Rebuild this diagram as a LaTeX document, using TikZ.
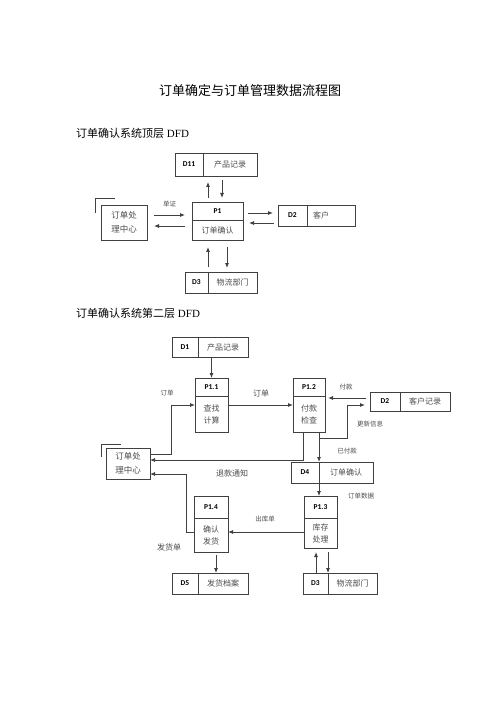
\documentclass[tikz,border=0pt]{standalone}
\usepackage{fontspec}
\setmainfont{Liberation Serif}
\newfontfamily\cjk{Noto Sans CJK SC}
\newfontfamily\idfont{Carlito}
\usetikzlibrary{positioning,arrows.meta}
\definecolor{linec}{gray}{0.25}
\definecolor{txtc}{gray}{0.3}

\begin{document}
\begin{tikzpicture}[
  x=1pt, y=-1pt,
  cell/.style={draw=linec, line width=0.8pt, inner sep=0pt, outer sep=0pt, minimum height=21pt},
  idcell/.style={cell, font=\idfont\bfseries\fontsize{7.5}{8}\selectfont},
  namecell/.style={cell, text=txtc, font=\cjk\fontsize{8}{9}\selectfont},
  phead/.style={cell, minimum height=18pt, font=\idfont\bfseries\fontsize{7.5}{8}\selectfont},
  pbody/.style={cell, text=txtc, align=center, font=\cjk\fontsize{8}{12}\selectfont},
  extbox/.style={cell, text=txtc, align=center, font=\cjk\fontsize{8.5}{14}\selectfont},
  lbl/.style={text=txtc, inner sep=0pt, font=\cjk\fontsize{6.5}{7}\selectfont},
  biglbl/.style={lbl, font=\cjk\fontsize{8}{9}\selectfont},
  flow/.style={-{Latex[length=5pt,width=4pt]}, draw=linec, line width=0.8pt},
  line/.style={draw=linec, line width=0.8pt}
]

\useasboundingbox (0,0) rectangle (500,708);

% Titles
\node (title) at (250,91) {\cjk\fontsize{13}{14}\selectfont 订单确定与订单管理数据流程图};
\node[anchor=west, inner sep=0pt] (sub1) at (76,133) {\fontsize{11}{12}\selectfont{\cjk 订单确认系统顶层} DFD};

% Top level
\node[idcell, minimum width=28pt, minimum height=23pt] (d11i) at (189,164.5) {D11};
\node[namecell, minimum width=54pt, minimum height=23pt, right=0pt of d11i] (d11n) {产品记录};

\node[phead, minimum width=51pt] (p1h) at (217.5,211) {P1};
\node[pbody, minimum width=51pt, minimum height=20pt, below=0pt of p1h] (p1b) {订单确认};

\node[extbox, minimum width=46pt, minimum height=35pt] (oc1) at (124,222.5) {订单处\\理中心};

\node[idcell, minimum width=29pt] (d2i) at (292.5,215.5) {D2};
\node[namecell, text width=36pt, inner xsep=6pt, align=left, right=0pt of d2i] (d2n) {客户};

\node[idcell, minimum width=23pt] (d3i) at (196.5,282.5) {D3};
\node[namecell, minimum width=49pt, right=0pt of d3i] (d3n) {物流部门};

\draw[line] ([xshift=-6pt,yshift=9.5pt]oc1.west) |- ([xshift=14pt,yshift=7pt]oc1.north west);

\draw[flow, shorten <=7pt, shorten >=7pt] ([yshift=7.5pt]oc1.east) -- node[lbl, above=8pt] (l1) {单证} ([yshift=-4pt]p1h.west);
\draw[flow, shorten <=7pt, shorten >=7pt] ([yshift=4pt]p1b.west) -- ([yshift=-3.5pt]oc1.east);

\draw[flow, shorten <=4pt, shorten >=6pt] ([xshift=-9.5pt]p1h.north) -- ([xshift=-22pt]d11n.south);
\draw[flow, shorten <=4pt, shorten >=4pt] ([xshift=-8pt]d11n.south) -- ([xshift=4.5pt]p1h.north);

\draw[flow, shorten <=5pt, shorten >=5pt] ([yshift=-2pt]p1h.east) -- ([yshift=2.5pt]d2i.west);
\draw[flow, shorten <=4pt, shorten >=6pt] ([yshift=-7.5pt]d2i.west) -- ([yshift=7pt]p1b.east);

\draw[flow, shorten <=5pt, shorten >=7pt] (d3i.north east) -- ([xshift=-9.5pt]p1b.south);
\draw[flow, shorten <=7pt, shorten >=4pt] ([xshift=9.5pt]p1b.south) -- ([xshift=-5.5pt]d3n.north);

% Second level
\node[anchor=west, inner sep=0pt] (sub2) at (76,313) {\fontsize{11}{12}\selectfont{\cjk 订单确认系统第二层} DFD};

\node[idcell, minimum width=26pt, minimum height=20pt] (d1i) at (185,347) {D1};
\node[namecell, minimum width=50pt, minimum height=20pt, right=0pt of d1i] (d1n) {产品记录};

\node[phead, minimum width=33pt] (p11h) at (211.5,387) {P1.1};
\node[pbody, minimum width=33pt, minimum height=36pt, below=0pt of p11h] (p11b) {查找\\计算};

\node[phead, minimum width=32pt] (p12h) at (309,387) {P1.2};
\node[pbody, minimum width=32pt, minimum height=36pt, below=0pt of p12h] (p12b) {付款\\检查};

\node[idcell, minimum width=30pt, minimum height=19pt] (crid) at (385,401.5) {D2};
\node[namecell, minimum width=50pt, minimum height=19pt, right=0pt of crid] (crname) {客户记录};

\node[extbox, minimum width=44pt, minimum height=31pt] (oc2) at (128,463.5) {订单处\\理中心};

\node[idcell, minimum width=28pt] (d4i) at (305,472.5) {D4};
\node[namecell, minimum width=54pt, right=0pt of d4i] (d4n) {订单确认};

\node[phead, minimum width=33pt, minimum height=22pt] (p13h) at (320.5,507) {P1.3};
\node[pbody, minimum width=33pt, minimum height=30pt, below=0pt of p13h] (p13b) {库存\\处理};

\node[phead, minimum width=34pt, minimum height=22pt] (p14h) at (211,507) {P1.4};
\node[pbody, minimum width=34pt, minimum height=34pt, below=0pt of p14h] (p14b) {确认\\发货};

\node[idcell, minimum width=26pt] (d5i) at (185,583.5) {D5};
\node[namecell, minimum width=50pt, right=0pt of d5i] (d5n) {发货档案};

\node[idcell, minimum width=25pt] (lgid) at (315.5,583.5) {D3};
\node[namecell, minimum width=49pt, right=0pt of lgid] (lgname) {物流部门};

% Flow labels
\node[lbl] (l2) at (167,393) {订单};
\node[biglbl] (l3) at (261,393) {订单};
\node[lbl] (l4) at (346,387) {付款};
\node[lbl] (l5) at (370,424) {更新信息};
\node[lbl] (l6) at (347,451) {已付款};
\node[biglbl] (l7) at (232,473) {退款通知};
\node[lbl] (l8) at (361,496) {订单数据};
\node[lbl] (l9) at (265,519) {出库单};
\node[biglbl] (l10) at (169,547) {发货单};

% Flows
\draw[line] ([xshift=-5pt,yshift=6.5pt]oc2.west) |- ([xshift=15pt,yshift=4pt]oc2.north west);

\draw[flow] ([xshift=-11.5pt]d1n.south) -- (p11h.north);
\draw[flow] ([yshift=9.5pt]oc2.east) -- ++(21,0) |- ([yshift=9pt]p11b.west);
\draw[flow] ([yshift=9pt]p11b.east) -- ([yshift=9pt]p12b.west);
\draw[flow, shorten <=4pt, shorten >=3pt] ([yshift=3.5pt]crid.west) -- ([yshift=16pt]p12b.east);
\draw[flow, shorten >=5pt] ([xshift=10pt]p12b.south) -- ++(0,6) -- ++(28,0) |- ([yshift=-3.5pt]crid.west);
\draw[flow] ([xshift=10pt]p12b.south) -- (d4i.north east);
\draw[flow] ([xshift=-6pt]p12b.south) |- ([yshift=3.5pt]oc2.east);
\draw[flow] ([yshift=3pt]p14b.west) -- ++(-8,0) |- ([yshift=-10.5pt]oc2.east);
\draw[flow] (d4i.south east) -- (d4i.south east |- p13h.north);
\draw[flow] ([yshift=1pt]p13b.west) -- ([yshift=3pt]p14b.east);
\draw[flow, shorten <=3pt] ([xshift=5pt]p14b.south) -- ([xshift=-7pt]d5n.north);
\draw[flow, shorten >=4pt] ([xshift=0.5pt]lgid.north) -- ([xshift=-4.5pt]p13b.south);
\draw[flow, shorten <=4pt] ([xshift=7.5pt]p13b.south) -- (lgid.north east);

\end{tikzpicture}
\end{document}
